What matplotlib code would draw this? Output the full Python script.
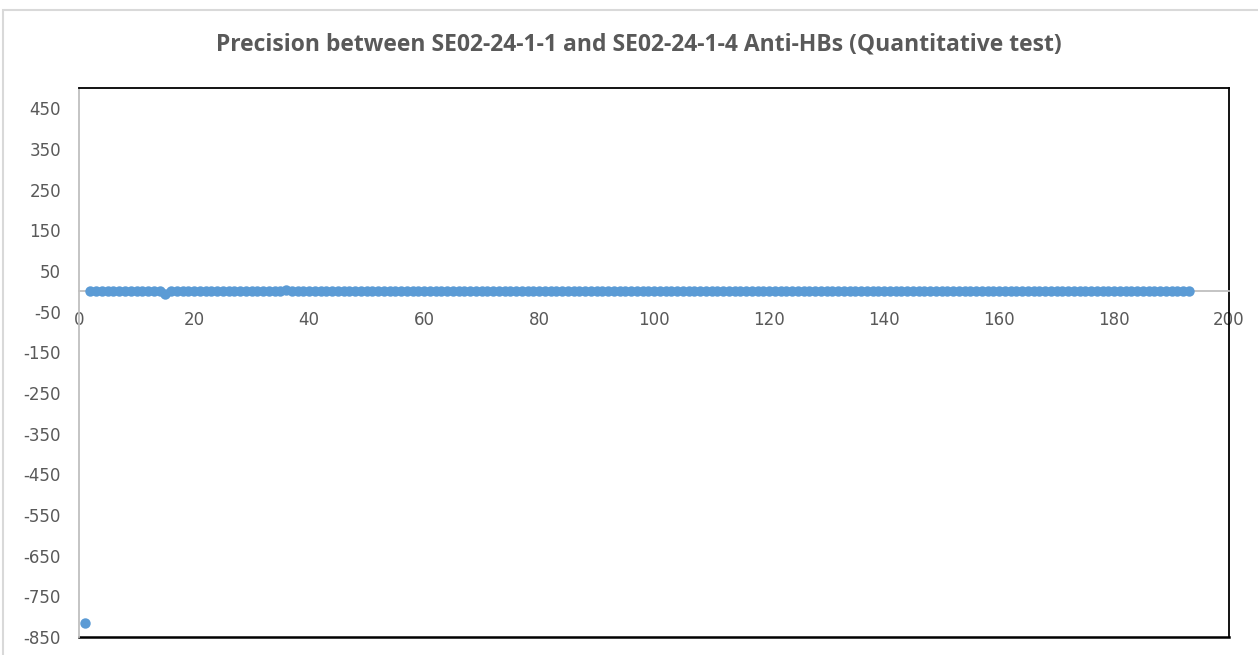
import matplotlib
matplotlib.use("Agg")
import matplotlib.pyplot as plt
from matplotlib.patches import Rectangle

plt.rcParams["axes.unicode_minus"] = False

# sample number vs difference between the two runs
sample_no = list(range(1, 194))
difference = [
    -815.0, 0.5, 0.3, 0.2, 0.4, 0.1, 0.3, 0.2, 0.5, 0.2,
    0.1, 0.4, 0.3, 0.2, -6.0, 0.3, 0.2, 0.1, 0.4, 0.2,
    0.3, 0.1, 0.2, 0.4, 0.3, 0.2, 0.1, 0.3, 0.2, 0.4,
    0.2, 0.1, 0.3, 0.2, 0.4, 4.5, 0.3, 0.1, 0.2, 0.3,
    0.2, 0.4, 0.1, 0.2, 0.3, 0.2, 0.1, 0.4, 0.2, 0.3,
    0.1, 0.2, 0.3, 0.2, 0.4, 0.1, 0.3, 0.2, 0.1, 0.3,
    0.2, 0.4, 0.2, 0.1, 0.3, 0.2, 0.1, 0.3, 0.4, 0.2,
    0.1, 0.3, 0.2, 0.4, 0.1, 0.2, 0.3, 0.2, 0.1, 0.3,
    0.2, 0.4, 0.3, 0.1, 0.2, 0.3, 0.2, 0.1, 0.4, 0.2,
    0.3, 0.1, 0.2, 0.3, 0.2, 0.4, 0.1, 0.3, 0.2, 0.1,
    0.3, 0.2, 0.4, 0.2, 0.1, 0.3, 0.2, 0.1, 0.3, 0.4,
    0.2, 0.1, 0.3, 0.2, 0.4, 0.1, 0.2, 0.3, 0.2, 0.1,
    0.3, 0.2, 0.4, 0.3, 0.1, 0.2, 0.3, 0.2, 0.1, 0.4,
    0.2, 0.3, 0.1, 0.2, 0.3, 0.2, 0.4, 0.1, 0.3, 0.2,
    0.1, 0.3, 0.2, 0.4, 0.2, 0.1, 0.3, 0.2, 0.1, 0.3,
    0.4, 0.2, 0.1, 0.3, 0.2, 0.4, 0.1, 0.2, 0.3, 0.2,
    0.1, 0.3, 0.2, 0.4, 0.3, 0.1, 0.2, 0.3, 0.2, 0.1,
    0.4, 0.2, 0.3, 0.1, 0.2, 0.3, 0.2, 0.4, 0.1, 0.3,
    0.2, 0.1, 0.3, 0.2, 0.4, 0.2, 0.1, 0.3, 0.2, 0.1,
    0.3, 0.4, 0.2,
]
x_ticks = [0, 20, 40, 60, 80, 100, 120, 140, 160, 180, 200]
y_ticks = [-850, -750, -650, -550, -450, -350, -250, -150, -50, 50, 150, 250, 350, 450]

text_gray = "#595959"
axis_gray = "#bfbfbf"

fig = plt.figure(figsize=(12.58, 6.55), dpi=100)
fig.patches.append(Rectangle((3 / 1258, -0.1), 1.2, 1.1 - 10 / 655,
                             transform=fig.transFigure, fill=False,
                             edgecolor="#d9d9d9", linewidth=1.5))

ax = fig.add_axes([79 / 1258, 1 - 637 / 655, 1150 / 1258, 549 / 655])
ax.plot(sample_no, difference, "o", color="#5b9bd5", markersize=7.5,
        markeredgewidth=0, clip_on=False, zorder=3)

ax.set_xlim(0, 200)
ax.set_ylim(-850, 500)
ax.set_xticks(x_ticks)
ax.set_yticks(y_ticks)

ax.spines["bottom"].set_position(("data", 0))
ax.spines["bottom"].set_color(axis_gray)
ax.spines["left"].set_color(axis_gray)
ax.spines["top"].set_color("black")
ax.spines["right"].set_color("black")
for s in ax.spines.values():
    s.set_linewidth(1.3)
ax.plot([0, 1], [0, 0], transform=ax.transAxes, color="black",
        linewidth=1.8, clip_on=False)

ax.tick_params(axis="both", length=0, labelsize=12, labelcolor=text_gray)
ax.tick_params(axis="y", pad=13)
ax.tick_params(axis="x", pad=14)

fig.text(639 / 1258, 1 - 45 / 655,
         "Precision between SE02-24-1-1 and SE02-24-1-4 Anti-HBs (Quantitative test)",
         ha="center", va="center", fontsize=16.5, fontweight="bold",
         color=text_gray, family="Open Sans")

fig.savefig("out.png", dpi=100)
